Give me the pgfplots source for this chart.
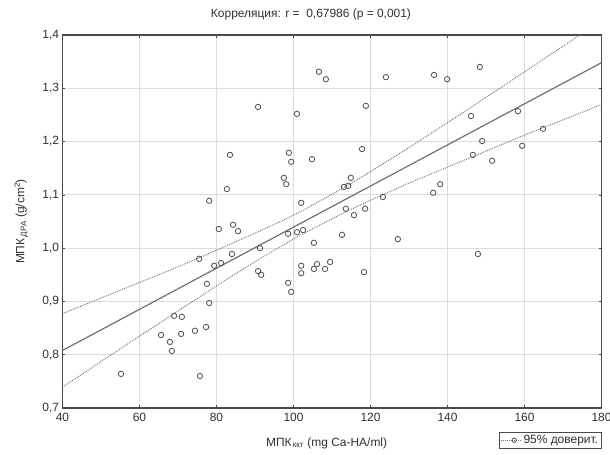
\documentclass[border=0pt]{standalone}
\usepackage{pgfplots}
\pgfplotsset{compat=1.18}
\usepackage{fontspec}
\setmainfont{Liberation Sans}
\definecolor{frm}{HTML}{4A4A4A}
\definecolor{mk}{HTML}{555555}
\definecolor{ln}{HTML}{707070}
\definecolor{grd}{HTML}{DCDCDC}
\definecolor{txt}{HTML}{303030}
\begin{document}
\begin{tikzpicture}
\begin{axis}[
  scale only axis, width=539bp, height=373bp,
  xmin=40, xmax=180, ymin=0.7, ymax=1.4,
  xtick={40,60,80,100,120,140,160,180},
  ytick={0.7,0.8,0.9,1.0,1.1,1.2,1.3,1.4},
  /pgf/number format/assume math mode=true,
  yticklabel style={/pgf/number format/.cd, use comma, fixed, fixed zerofill, precision=1},
  ticklabel style={font=\fontsize{12}{14}\selectfont, text=txt},
  xticklabel style={yshift=-2bp},
  tick align=inside, major tick length=3bp, tick style={frm, line width=0.6bp},
  grid=major, major grid style={grd, line width=1bp},
  axis line style={frm, line width=1.1bp},
  title={Корреляция: r =\ \ 0,67986 (p = 0,001)},
  title style={at={(0.461,1)}, anchor=base, yshift=12bp, font=\fontsize{12}{14}\selectfont, text=txt},
  xlabel={МПК\textsubscript{\,ккт} (mg Ca-HA/ml)},
  ylabel={МПК\textsubscript{\,ДРА} (g/cm\textsuperscript{2})},
  label style={font=\fontsize{12}{14}\selectfont, text=txt},
  xlabel style={at={(0.49,0)}, anchor=base, yshift=-38bp},
  ylabel style={at={(0,0.5)}, anchor=base, yshift=38bp},
  legend style={at={(1,-0.064)}, anchor=north east, draw=frm, line width=0.9bp,
    font=\fontsize{12}{14}\selectfont, text=txt, inner sep=1pt,
    legend cell align=left},
  legend image code/.code={\draw[#1, densely dotted] (0bp,0bp) -- (20bp,0bp);
    \draw[mk, line width=0.8bp, solid] (13bp,0bp) circle (2.2bp);},
  clip=true,
]
% 95% confidence bands
\addplot[ln, densely dotted, line width=0.9bp, smooth, forget plot] coordinates {
(40,0.877) (55,0.921) (70,0.965) (85,1.012) (100,1.062) (115,1.122) (130,1.189) (145,1.259) (160,1.331) (175,1.403) (180,1.427)};
\addplot[ln, densely dotted, line width=0.9bp, smooth, forget plot] coordinates {
(40,0.739) (55,0.811) (70,0.882) (85,0.952) (100,1.017) (115,1.073) (130,1.122) (145,1.167) (160,1.212) (175,1.255) (180,1.270)};
% regression line
\addplot[ln, line width=1.2bp, forget plot] coordinates {(40,0.808) (180,1.348)};
% data
\addplot[only marks, mark=o, mark size=2.7bp, mark options={mk, line width=0.85bp}, forget plot] coordinates {
(55.2,0.764) (75.7,0.760) (65.6,0.837) (67.9,0.824) (68.4,0.807) (69.0,0.873)
(71.0,0.871) (70.8,0.839) (74.4,0.845) (77.3,0.852) (77.5,0.933) (78.1,0.897)
(78.1,1.089) (75.5,0.980) (79.4,0.967) (81.2,0.972) (80.6,1.036)
(106.6,1.331) (108.4,1.317) (124.0,1.321) (90.8,1.265) (100.9,1.252) (118.8,1.267)
(83.5,1.175) (98.8,1.179) (99.4,1.162) (104.8,1.167) (117.8,1.186) (82.7,1.111)
(97.5,1.132) (98.1,1.120) (114.9,1.132) (113.1,1.115) (114.2,1.117) (123.2,1.096)
(102.0,1.085) (113.6,1.074) (115.7,1.062) (118.6,1.074) (84.3,1.044) (85.6,1.032)
(98.6,1.027) (100.9,1.030) (102.5,1.034) (112.6,1.025) (127.1,1.017) (105.3,1.010)
(91.3,1.000) (84.0,0.989) (90.8,0.957) (91.6,0.950) (102.0,0.967) (102.0,0.953)
(106.1,0.970) (105.3,0.961) (108.2,0.961) (109.5,0.974) (118.3,0.955) (98.6,0.935)
(99.4,0.918)
(136.5,1.325) (139.9,1.317) (148.4,1.340) (146.1,1.248) (158.3,1.257) (149.0,1.201)
(146.6,1.175) (151.6,1.164) (159.4,1.192) (164.8,1.224) (138.1,1.120) (136.3,1.104)
(147.9,0.989)};
\addlegendimage{ln, line width=0.9bp}
\addlegendentry{95\% доверит.}
\end{axis}
\pgfresetboundingbox
\path[use as bounding box] ([xshift=-62.5bp,yshift=-47bp]current axis.south west) rectangle ([xshift=8.5bp,yshift=35bp]current axis.north east);
\end{tikzpicture}
\end{document}
